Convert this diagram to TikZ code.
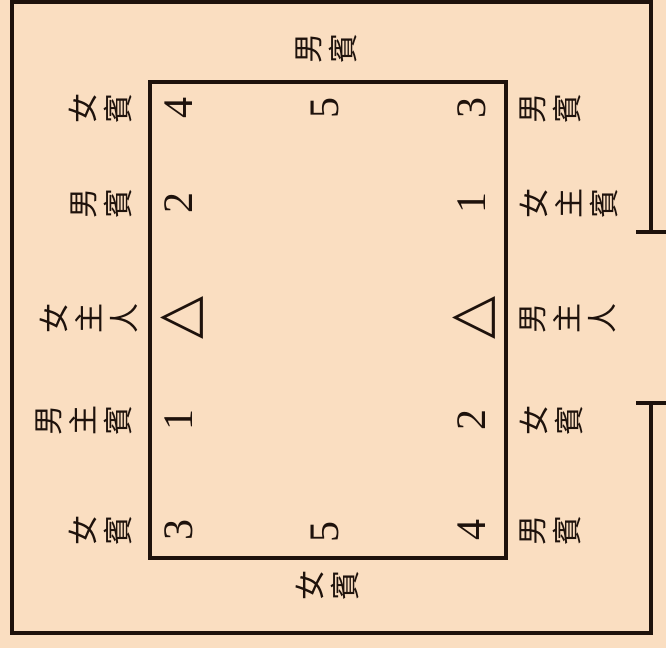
\documentclass[tikz,border=0pt]{standalone}
\usepackage{fontspec}
\usetikzlibrary{positioning}
\newfontfamily\cjk{Noto Sans CJK TC}
\newfontfamily\numfont{Liberation Serif}
\newfontfamily\symfont{DejaVu Sans}
\definecolor{roombg}{RGB}{250,222,193}
\definecolor{roomink}{RGB}{30,18,12}

\begin{document}
\begin{tikzpicture}[
  x=1pt,y=-1pt,
  wall/.style={draw=roomink,line width=4.5pt,line join=miter},
  tbl/.style={draw=roomink,line width=4pt},
  seatL/.style={font=\cjk\fontsize{30}{35}\selectfont,text=roomink,rotate=90,
                align=center,inner sep=0pt,anchor=south},
  seatR/.style={seatL,anchor=north},
  seatC/.style={seatL,anchor=center},
  num/.style={font=\numfont\fontsize{42}{42}\selectfont,text=roomink,rotate=90,inner sep=0pt},
  host/.style={font=\symfont\fontsize{56}{56}\selectfont,text=roomink,rotate=90,inner sep=0pt}
]
  \useasboundingbox[fill=roombg] (0,0) rectangle (666,648);

  \coordinate (doorA) at (651,232);
  \coordinate (doorB) at (651,403);
  \draw[wall] (doorA)--(651,1.5)--(12,1.5)--(12,633)--(651,633)--(doorB);
  \draw[wall] (636,232)--(666,232);
  \draw[wall] (636,403)--(666,403);

  \node[tbl,minimum width=356pt,minimum height=476pt,inner sep=0pt] (table) at (328,320) {};

  \node[seatC] (topg) at (326,48) {男\\賓};
  \node[seatC] (botg) at (327,585) {女\\賓};

  \node[seatL] (l1) at (132,108) {女\\賓};
  \node[seatL] (l2) at (132,203) {男\\賓};
  \node[seatL] (l3) at (138,318) {女\\主\\人};
  \node[seatL] (l4) at (132,420) {男\\主\\賓};
  \node[seatL] (l5) at (132,530) {女\\賓};

  \node[seatR] (r1) at (520,108) {男\\賓};
  \node[seatR] (r2) at (520,203) {女\\主\\賓};
  \node[seatR] (r3) at (520,318) {男\\主\\人};
  \node[seatR] (r4) at (520,420) {女\\賓};
  \node[seatR] (r5) at (520,530) {男\\賓};

  \node[num] (n4a) at (179,108) {4};
  \node[num] (n2a) at (179,203) {2};
  \node[host] (hf) at (182,318) {△};
  \node[num] (n1a) at (179,420) {1};
  \node[num] (n3a) at (179,530) {3};

  \node[num] (n3b) at (472,108) {3};
  \node[num] (n1b) at (472,203) {1};
  \node[host] (hm) at (474,318) {△};
  \node[num] (n2b) at (472,420) {2};
  \node[num] (n4b) at (472,530) {4};

  \node[num] (n5a) at (325,108) {5};
  \node[num] (n5b) at (325,532) {5};
\end{tikzpicture}
\end{document}
